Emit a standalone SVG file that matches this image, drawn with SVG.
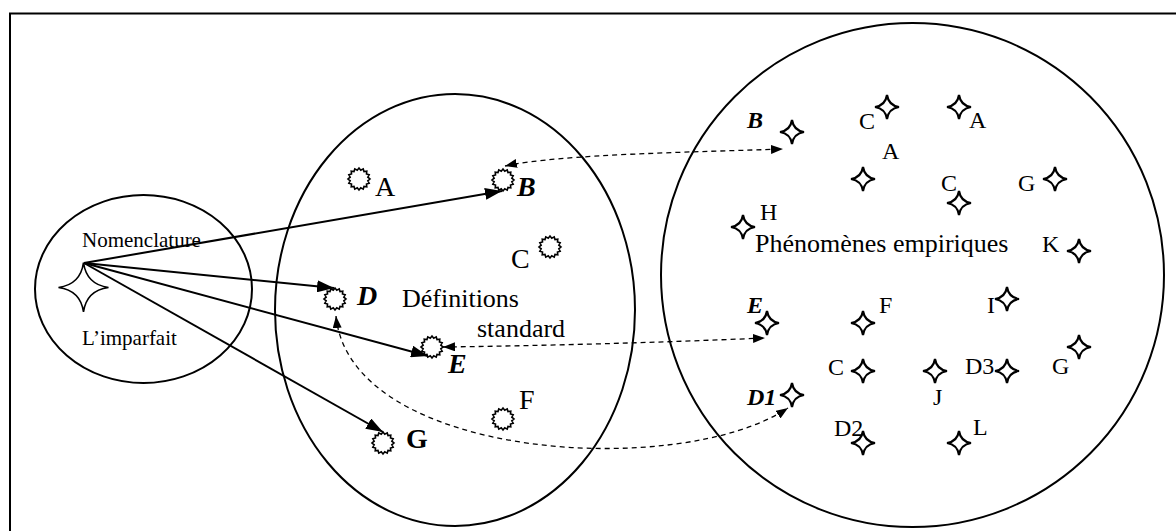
<svg xmlns="http://www.w3.org/2000/svg" width="1176" height="531" viewBox="0 0 1176 531">
<style>
text{font-family:"Liberation Serif","Times New Roman",serif;fill:#000}
.l{font-size:28px}
.r{font-size:24px}
.bi{font-weight:bold;font-style:italic}
.b{font-weight:bold}
.area{fill:none;stroke:#000;stroke-width:2}
.sun{fill:#fff;stroke:#000;stroke-width:1.6}
.st{fill:#fff;stroke:#000;stroke-width:2.2;stroke-linejoin:miter}
.solid{fill:none;stroke:#000;stroke-width:2}
.dash{fill:none;stroke:#000;stroke-width:1.3;stroke-dasharray:5 4}
</style>
<defs>
<polygon id="sun" points="11,0 8.83,1.76 10.16,4.21 7.48,5 7.78,7.78 5,7.48 4.21,10.16 1.76,8.83 0,11 -1.76,8.83 -4.21,10.16 -5,7.48 -7.78,7.78 -7.48,5 -10.16,4.21 -8.83,1.76 -11,0 -8.83,-1.76 -10.16,-4.21 -7.48,-5 -7.78,-7.78 -5,-7.48 -4.21,-10.16 -1.76,-8.83 0,-11 1.76,-8.83 4.21,-10.16 5,-7.48 7.78,-7.78 7.48,-5 10.16,-4.21 8.83,-1.76"/>
<path id="star" d="M0,-12 Q1.6,-1.6 12,0 Q1.6,1.6 0,12 Q-1.6,1.6 -12,0 Q-1.6,-1.6 0,-12Z"/>
<marker id="ah" viewBox="0 0 17 12" refX="17" refY="6" markerWidth="17" markerHeight="12" markerUnits="userSpaceOnUse" orient="auto"><path d="M0,0 L17,6 L0,12Z" fill="#000"/></marker>
<marker id="dh" viewBox="0 0 12 9" refX="12" refY="4.5" markerWidth="12" markerHeight="9" markerUnits="userSpaceOnUse" orient="auto-start-reverse"><path d="M0,0 L12,4.5 L0,9Z" fill="#000"/></marker>
</defs>
<rect width="1176" height="531" fill="#fff"/>
<g id="frame" fill="none" stroke="#000" stroke-width="2">
<polyline points="10,531 10,13.5 1176,13.5"/>
</g>
<g id="nomenclature">
<ellipse class="area" cx="143.5" cy="289" rx="108.5" ry="94"/>
<path d="M83.5,262.5 Q86.5,284.5 108.5,287.5 Q86.5,290.5 83.5,312 Q80.5,290.5 58.5,287.5 Q80.5,284.5 83.5,262.5Z" fill="#fff" stroke="#000" stroke-width="1.6"/>
<text x="82" y="247" style="font-size:21px">Nomenclature</text>
<text x="82" y="345" style="font-size:21px">L’imparfait</text>
</g>
<g id="definitions">
<ellipse class="area" cx="455" cy="310" rx="180" ry="216"/>
<text x="402" y="307" style="font-size:26px">Définitions</text>
<text x="477" y="337" style="font-size:26px">standard</text>
</g>
<g id="phenomenes">
<ellipse class="area" cx="912.5" cy="275" rx="251.5" ry="252"/>
<text x="755" y="252" style="font-size:26px">Phénomènes empiriques</text>
</g>
<g id="connectors">
<line class="solid" x1="84" y1="263" x2="502" y2="191" marker-end="url(#ah)"/>
<line class="solid" x1="84" y1="263" x2="334" y2="288" marker-end="url(#ah)"/>
<line class="solid" x1="84" y1="263" x2="428" y2="356" marker-end="url(#ah)"/>
<line class="solid" x1="84" y1="263" x2="383" y2="432" marker-end="url(#ah)"/>
<path class="dash" d="M505,166 C560,154 700,152 783,149" marker-start="url(#dh)" marker-end="url(#dh)"/>
<path class="dash" d="M443,347 Q600,345 765,338" marker-start="url(#dh)" marker-end="url(#dh)"/>
<path class="dash" d="M336,316 C350,460 680,480 788,408" marker-start="url(#dh)" marker-end="url(#dh)"/>
</g>
<g id="def-A"><use href="#sun" class="sun" x="359" y="179"/><text class="l" x="375" y="196">A</text></g>
<g id="def-B"><use href="#sun" class="sun" x="503" y="180"/><text class="l bi" x="517" y="196">B</text></g>
<g id="def-C"><use href="#sun" class="sun" x="550" y="247"/><text class="l" x="511" y="268">C</text></g>
<g id="def-D"><use href="#sun" class="sun" x="335" y="299"/><text class="l bi" x="357" y="305">D</text></g>
<g id="def-E"><use href="#sun" class="sun" x="432" y="347"/><text class="l bi" x="448" y="373">E</text></g>
<g id="def-F"><use href="#sun" class="sun" x="503" y="419"/><text class="l" x="519" y="409">F</text></g>
<g id="def-G"><use href="#sun" class="sun" x="383" y="443"/><text class="l b" x="406" y="448">G</text></g>
<g id="ph-B"><use href="#star" class="st" x="792" y="132"/><text class="r bi" x="747" y="128">B</text></g>
<g id="ph-C1"><use href="#star" class="st" x="887" y="107"/><text class="r" x="859" y="129">C</text></g>
<g id="ph-A1"><use href="#star" class="st" x="959" y="107"/><text class="r" x="969" y="128">A</text></g>
<g id="ph-A2"><use href="#star" class="st" x="863" y="179"/><text class="r" x="882" y="159">A</text></g>
<g id="ph-C2"><use href="#star" class="st" x="959" y="203"/><text class="r" x="941" y="191">C</text></g>
<g id="ph-G1"><use href="#star" class="st" x="1055" y="179"/><text class="r" x="1018" y="191">G</text></g>
<g id="ph-H"><use href="#star" class="st" x="743" y="227"/><text class="r" x="760" y="220">H</text></g>
<g id="ph-K"><use href="#star" class="st" x="1079" y="251"/><text class="r" x="1042" y="252">K</text></g>
<g id="ph-I"><use href="#star" class="st" x="1007" y="299"/><text class="r" x="987" y="313">I</text></g>
<g id="ph-E"><use href="#star" class="st" x="767" y="323"/><text class="r bi" x="747" y="313">E</text></g>
<g id="ph-F"><use href="#star" class="st" x="863" y="323"/><text class="r" x="879" y="313">F</text></g>
<g id="ph-G2"><use href="#star" class="st" x="1079" y="347"/><text class="r" x="1052" y="374">G</text></g>
<g id="ph-C3"><use href="#star" class="st" x="863" y="371"/><text class="r" x="828" y="375">C</text></g>
<g id="ph-J"><use href="#star" class="st" x="935" y="371"/><text class="r" x="933" y="405">J</text></g>
<g id="ph-D3"><use href="#star" class="st" x="1007" y="371"/><text class="r" x="965" y="374">D3</text></g>
<g id="ph-D1"><use href="#star" class="st" x="792" y="395"/><text class="r bi" x="747" y="405">D1</text></g>
<g id="ph-D2"><use href="#star" class="st" x="863" y="443"/><text class="r" x="834" y="436">D2</text></g>
<g id="ph-L"><use href="#star" class="st" x="959" y="443"/><text class="r" x="973" y="435">L</text></g>
</svg>
